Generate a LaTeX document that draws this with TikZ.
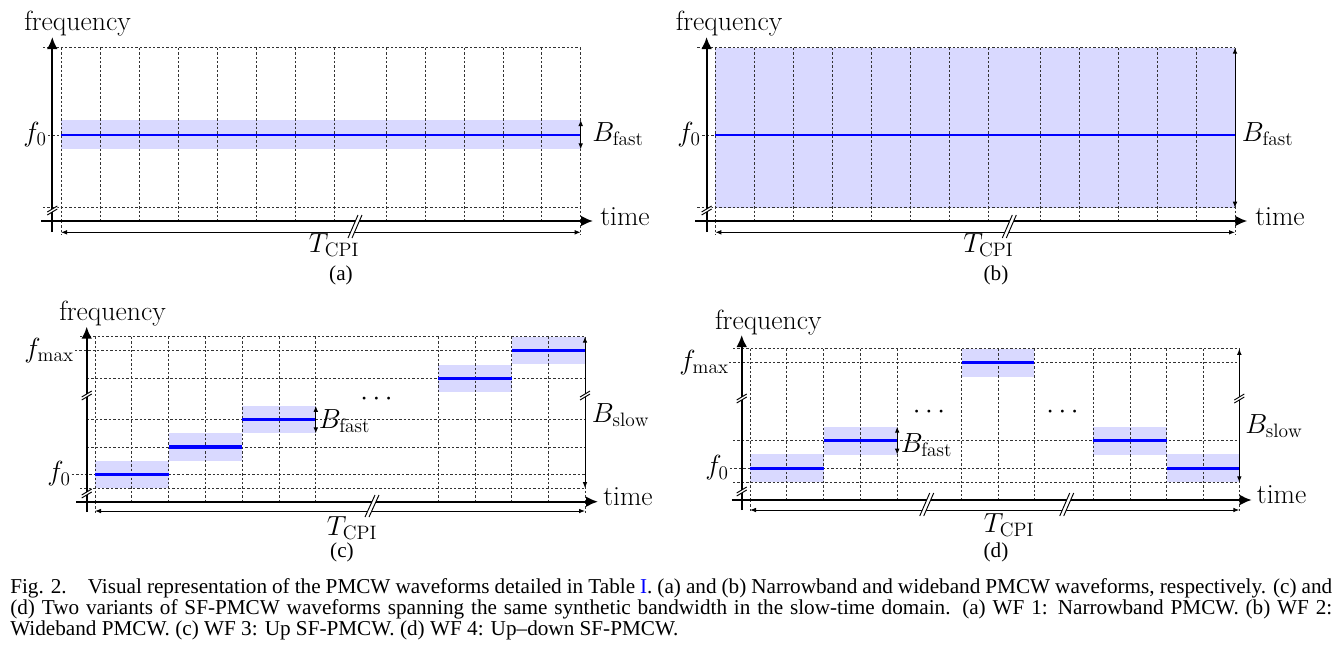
\documentclass[tikz,border=0pt]{standalone}
\usepackage{fontspec}
\newfontfamily\capfont{Liberation Serif}
\usepackage{tikz}
\usetikzlibrary{arrows.meta}
\usetikzlibrary{positioning}
\tikzset{
    axis/.style={
           line width=1.4pt,
           -{Latex[length=9pt,width=8pt]},
           },
    span/.style={
           line width=0.7pt,
           {Latex[length=4.5pt,width=3.5pt]}-{Latex[length=4.5pt,width=3.5pt]},
           },
    gridline/.style={
           line width=0.55pt,
           black!80,
           dash pattern=on 1.8pt off 1.5pt,
           },
    band/.style={fill=blue!15},
    carrier/.style={blue, line width=1.4pt},
    hop/.style={blue, line width=2.3pt},
    lbl/.style={inner sep=0pt, font=\fontsize{20.8}{22}\selectfont},
    sub/.style={inner sep=0pt, font=\capfont\fontsize{15.9}{17}\selectfont},
    capline/.style={inner sep=0pt, anchor=base west, font=\capfont\fontsize{15.9}{16}\selectfont},
}
% slanted cut through the time axis and the T_CPI arrow
\newcommand{\timecut}[3]{%
  \fill[white] (#1+3,#2) -- (#1+7,#2) -- (#1-3,#3) -- (#1-7,#3) -- cycle;
  \draw[line width=0.7pt] (#1+3,#2) -- (#1-7,#3) (#1+7,#2) -- (#1-3,#3);}
% small cut on a vertical line
\newcommand{\freqcut}[2]{%
  \fill[white] (#1-5,#2+3) -- (#1+5,#2-3) -- (#1+5,#2-6) -- (#1-5,#2) -- cycle;
  \draw[line width=0.7pt] (#1-5,#2+3) -- (#1+5,#2-3) (#1-5,#2) -- (#1+5,#2-6);}

\begin{document}
\begin{tikzpicture}[x=0.75pt,y=-0.75pt]
\useasboundingbox (0,0) rectangle (1341,661);

% (a) NARROWBAND PMCW
\fill[band] (61,120) rectangle (580.7,149.3);
\foreach \x in {61,100,139,178,217,256,295,334,386.2,425.1,464,502.9,541.8,580.7}
  \draw[gridline] (\x,47.7) -- (\x,221);
\foreach \x in {61,580.7}
  \draw[gridline] (\x,221) -- (\x,235);
\draw[gridline] (43,47.7) -- (580.7,47.7);
\draw[gridline] (43,207.7) -- (580.7,207.7);
\draw[gridline] (48,135) -- (61,135);
\draw[carrier] (61,135) -- (580.7,135);
% Axes of (a)
\coordinate (FBOT-A) at (52.3,232);
\coordinate (FTOP-A) at (52.3,37);
\coordinate (TLEFT-A) at (41,221);
\coordinate (TRIGHT-A) at (593,221);
\draw[axis] (FBOT-A) -- (FTOP-A);
\draw[axis] (TLEFT-A) -- (TRIGHT-A);
\coordinate (CPI0-A) at (61,232.3);
\coordinate (CPI1-A) at (580.7,232.3);
\draw[span] (CPI0-A) -- (CPI1-A);
\coordinate (B0-A) at (580.7,120);
\coordinate (B1-A) at (580.7,149.3);
\draw[span] (B0-A) -- (B1-A);
\timecut{355}{215}{238}
\freqcut{52.3}{212}
% Labels of (a)
\node[lbl] (FREQ-A) at (77.5,24) {frequency};
\node[lbl, anchor=east] (F0-A) at (47,134.5) {$f_0$};
\node[lbl, anchor=west] (BFAST-A) at (592,134) {$B_{\mathrm{fast}}$};
\node[lbl, anchor=west] (TIME-A) at (600,216.7) {time};
\node[lbl] (TCPI-A) at (334,245) {$T_{\mathrm{CPI}}$};
\node[sub] (CAP-A) at (341,275.5) {(a)};

% (b) WIDEBAND PMCW
\begin{scope}[shift={(654.3,0)}]
\fill[band] (61,47.7) rectangle (580.7,207.7);
\foreach \x in {61,100,139,178,217,256,295,334,386.2,425.1,464,502.9,541.8,580.7}
  \draw[gridline] (\x,47.7) -- (\x,221);
\foreach \x in {61,580.7}
  \draw[gridline] (\x,221) -- (\x,235);
\draw[gridline] (43,47.7) -- (580.7,47.7);
\draw[gridline] (43,207.7) -- (580.7,207.7);
\draw[gridline] (48,135) -- (61,135);
\draw[carrier] (61,135) -- (580.7,135);
% Axes of (b)
\coordinate (FBOT-B) at (52.3,232);
\coordinate (FTOP-B) at (52.3,37);
\coordinate (TLEFT-B) at (41,221);
\coordinate (TRIGHT-B) at (593,221);
\draw[axis] (FBOT-B) -- (FTOP-B);
\draw[axis] (TLEFT-B) -- (TRIGHT-B);
\coordinate (CPI0-B) at (61,232.3);
\coordinate (CPI1-B) at (580.7,232.3);
\draw[span] (CPI0-B) -- (CPI1-B);
\coordinate (B0-B) at (580.7,47.7);
\coordinate (B1-B) at (580.7,207.7);
\draw[span] (B0-B) -- (B1-B);
\timecut{355}{215}{238}
\freqcut{52.3}{212}
% Labels of (b)
\node[lbl] (FREQ-B) at (74.7,24) {frequency};
\node[lbl, anchor=east] (F0-B) at (46.7,134.5) {$f_0$};
\node[lbl, anchor=west] (BFAST-B) at (587.4,134) {$B_{\mathrm{fast}}$};
\node[lbl, anchor=west] (TIME-B) at (600.7,216.7) {time};
\node[lbl] (TCPI-B) at (334,245) {$T_{\mathrm{CPI}}$};
\node[sub] (CAP-B) at (341.7,275.5) {(b)};
\end{scope}

% (c) UP SF-PMCW
\foreach \xa/\xb/\f in {95/168.6/474.3, 168.6/242.2/447, 242.2/315.8/419.6, 438.2/511.6/378.3, 511.6/585/350.5}
  \fill[band] (\xa,\f-13.8) rectangle (\xb,\f+13.8);
\foreach \x in {95,131.8,168.6,205.4,242.2,279,315.8,438.2,474.9,511.6,548.3,585}
  \draw[gridline] (\x,336.7) -- (\x,501.7);
\foreach \x in {95,585}
  \draw[gridline] (\x,501.7) -- (\x,514);
\draw[gridline] (80,336.7) -- (585,336.7);
\draw[gridline] (75,350.5) -- (585,350.5);
\foreach \y in {378.3,419.6,447}
  \draw[gridline] (86.7,\y) -- (585,\y);
\draw[gridline] (71.7,474.3) -- (585,474.3);
\draw[gridline] (80,488.1) -- (585,488.1);
\foreach \xa/\xb/\f in {95/168.6/474.3, 168.6/242.2/447, 242.2/315.8/419.6, 438.2/511.6/378.3, 511.6/585/350.5}
  \draw[hop] (\xa,\f) -- (\xb,\f);
% Axes of (c)
\coordinate (FBOT-C) at (86.7,512);
\coordinate (FTOP-C) at (86.7,326.7);
\coordinate (TLEFT-C) at (76,501.7);
\coordinate (TRIGHT-C) at (598,501.7);
\draw[axis] (FBOT-C) -- (FTOP-C);
\draw[axis] (TLEFT-C) -- (TRIGHT-C);
\coordinate (CPI0-C) at (95,511);
\coordinate (CPI1-C) at (585,511);
\draw[span] (CPI0-C) -- (CPI1-C);
\coordinate (B0-C) at (315.8,405.8);
\coordinate (B1-C) at (315.8,433.4);
\draw[span] (B0-C) -- (B1-C);
\coordinate (S0-C) at (585,336.7);
\coordinate (S1-C) at (585,488.1);
\draw[span] (S0-C) -- (S1-C);
\timecut{372}{495}{517}
\freqcut{86.7}{397}
\freqcut{86.7}{495}
\freqcut{585}{397}
% Labels of (c)
\node[lbl] (FREQ-C) at (112.5,314) {frequency};
\node[lbl, anchor=east] (FMAX-C) at (74,350.5) {$f_{\max}$};
\node[lbl, anchor=east] (F0-C) at (71,474) {$f_0$};
\node[lbl, anchor=west] (BFAST-C) at (318.5,421) {$B_{\mathrm{fast}}$};
\node[lbl] (DOTS-C) at (376.5,399) {$\cdots$};
\node[lbl, anchor=west] (BSLOW-C) at (591.7,415) {$B_{\mathrm{slow}}$};
\node[lbl, anchor=west] (TIME-C) at (603,497) {time};
\node[lbl] (TCPI-C) at (352,528) {$T_{\mathrm{CPI}}$};
\node[sub] (CAP-C) at (342,552) {(c)};

% (d) UP-DOWN SF-PMCW
\foreach \xa/\xb/\f in {750/823.6/468.3, 823.6/897.2/440.7, 961.7/1034.3/362.8, 1093.3/1166.7/440.7, 1166.7/1239.3/468.3}
  \fill[band] (\xa,\f-14) rectangle (\xb,\f+14);
\foreach \x in {750,786.8,823.6,860.4,897.2,961.7,998,1034.3,1093.3,1130,1166.7,1203.3,1239.3}
  \draw[gridline] (\x,348.8) -- (\x,500);
\foreach \x in {750,1239.3}
  \draw[gridline] (\x,500) -- (\x,513);
\draw[gridline] (733,348.8) -- (1239.3,348.8);
\draw[gridline] (729,362.8) -- (1239.3,362.8);
\draw[gridline] (733,440.7) -- (1239.3,440.7);
\draw[gridline] (730,468.3) -- (1239.3,468.3);
\draw[gridline] (733,482.3) -- (1239.3,482.3);
\foreach \xa/\xb/\f in {750/823.6/468.3, 823.6/897.2/440.7, 961.7/1034.3/362.8, 1093.3/1166.7/440.7, 1166.7/1239.3/468.3}
  \draw[hop] (\xa,\f) -- (\xb,\f);
% Axes of (d)
\coordinate (FBOT-D) at (741.7,510);
\coordinate (FTOP-D) at (741.7,335);
\coordinate (TLEFT-D) at (731.7,500);
\coordinate (TRIGHT-D) at (1251.7,500);
\draw[axis] (FBOT-D) -- (FTOP-D);
\draw[axis] (TLEFT-D) -- (TRIGHT-D);
\coordinate (CPI0-D) at (750,510);
\coordinate (CPI1-D) at (1239.3,510);
\draw[span] (CPI0-D) -- (CPI1-D);
\coordinate (B0-D) at (897.2,426.7);
\coordinate (B1-D) at (897.2,454.7);
\draw[span] (B0-D) -- (B1-D);
\coordinate (S0-D) at (1239.3,348.8);
\coordinate (S1-D) at (1239.3,482.3);
\draw[span] (S0-D) -- (S1-D);
\timecut{926.7}{493}{516}
\timecut{1066.7}{493}{516}
\freqcut{741.7}{400}
\freqcut{741.7}{493}
\freqcut{1239.3}{400}
% Labels of (d)
\node[lbl] (FREQ-D) at (768.3,322.5) {frequency};
\node[lbl, anchor=east] (FMAX-D) at (729,362.8) {$f_{\max}$};
\node[lbl, anchor=east] (F0-D) at (729,468) {$f_0$};
\node[lbl, anchor=west] (BFAST-D) at (900.5,445) {$B_{\mathrm{fast}}$};
\node[lbl] (DOTS1-D) at (929,412.3) {$\cdots$};
\node[lbl] (DOTS2-D) at (1062.5,412.3) {$\cdots$};
\node[lbl, anchor=west] (BSLOW-D) at (1245,426) {$B_{\mathrm{slow}}$};
\node[lbl, anchor=west] (TIME-D) at (1256.7,495) {time};
\node[lbl] (TCPI-D) at (1009,525) {$T_{\mathrm{CPI}}$};
\node[sub] (CAP-D) at (996,552) {(d)};

% FIGURE CAPTION
\node[capline] (CAPTION1) at (10,593.5)
  {\makebox[991.5pt][s]{Fig. 2.\quad Visual representation of the PMCW waveforms detailed in Table \textcolor{blue}{I}. (a) and (b) Narrowband and wideband PMCW waveforms, respectively. (c) and}};
\node[capline] (CAPTION2) at (10,614.5)
  {\makebox[991.5pt][s]{(d) Two variants of SF-PMCW waveforms spanning the same synthetic bandwidth in the slow-time domain. (a) WF 1: Narrowband PMCW. (b) WF 2:}};
\node[capline] (CAPTION3) at (10,635.5)
  {Wideband PMCW. (c) WF 3: Up SF-PMCW. (d) WF 4: Up\textendash down SF-PMCW.};
\end{tikzpicture}
\end{document}
